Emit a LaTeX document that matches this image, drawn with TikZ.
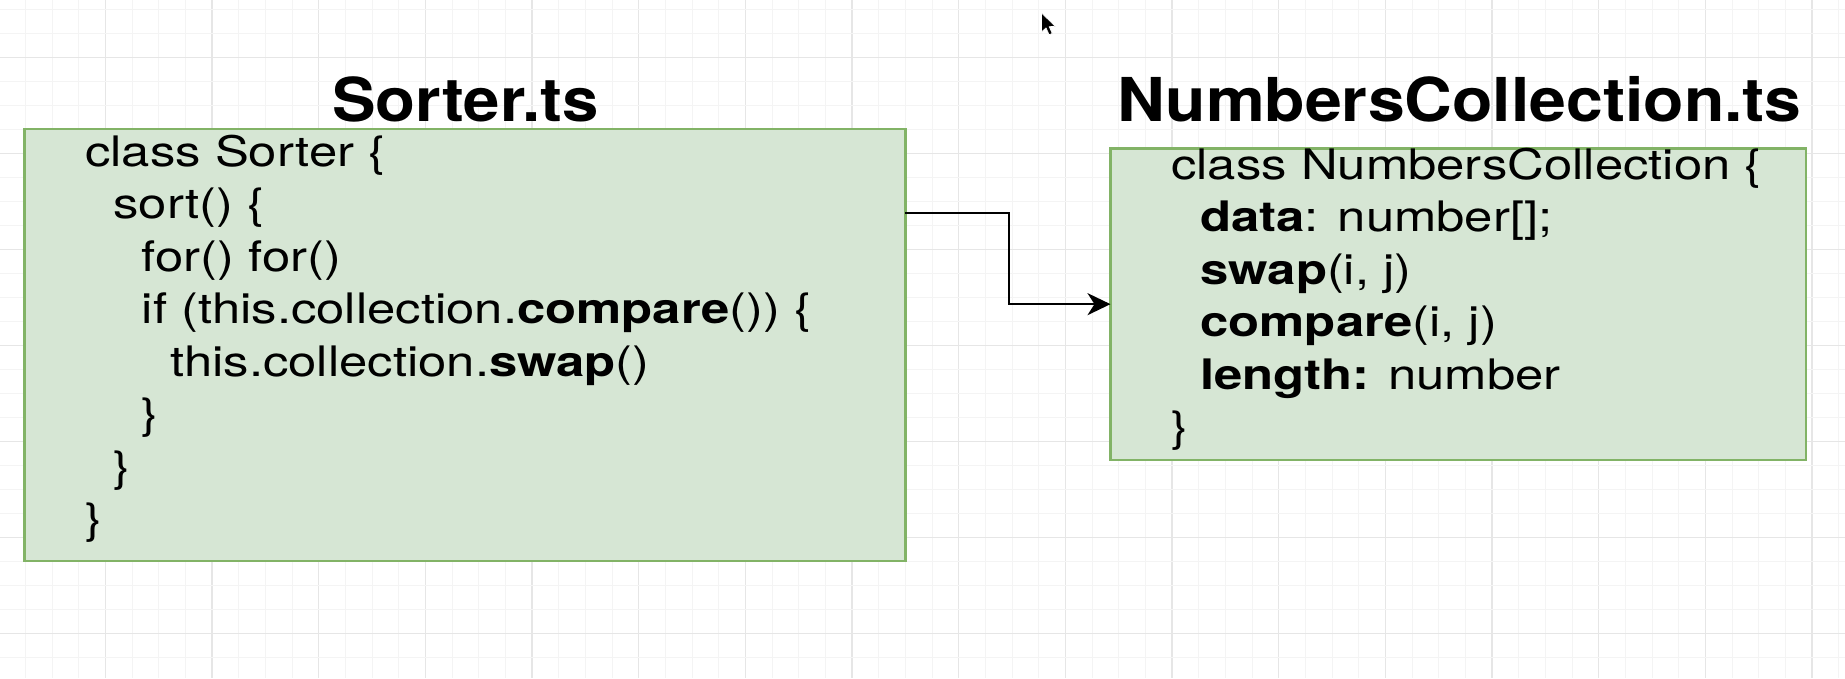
\documentclass[tikz,border=0pt]{standalone}
\usepackage{fontspec}
\setmainfont{TeX Gyre Heros}
\usetikzlibrary{arrows.meta}
\definecolor{boxfill}{HTML}{D6E6D4}
\definecolor{boxline}{HTML}{82B366}
\definecolor{gridminor}{HTML}{F4F4F4}
\definecolor{gridmajor}{HTML}{E6E6E6}
\newcommand{\bodyfont}{\fontsize{42}{50}\selectfont}
\newcommand{\titlefont}{\fontsize{60.5}{70}\selectfont\bfseries}
\newcommand{\hsc}[1]{\scalebox{1.21}[1]{#1}}
\newcommand{\hst}[1]{\scalebox{1.08}[1]{#1}}
\newcommand{\hstb}[1]{\scalebox{1.093}[1]{#1}}
\begin{document}
\begin{tikzpicture}[x=1pt,y=-1pt,
  box/.style={draw=boxline, fill=boxfill, line width=2.5pt, inner sep=0pt, outer sep=0pt},
  code/.style={anchor=base west, inner sep=0pt, font=\bodyfont},
  ftitle/.style={anchor=base west, inner sep=0pt, font=\titlefont},
  arr/.style={line width=2.3pt, -{Stealth[length=23pt,width=22pt,inset=7pt]}}]
\useasboundingbox (0,0) rectangle (1845,678);
\fill[white] (0,0) rectangle (1845,678);
% grid
\foreach \k in {0,...,68} {
  \pgfmathsetmacro\xx{25.333+26.6667*\k}
  \pgfmathtruncatemacro\m{mod(\k,4)}
  \ifnum\m=3
    \draw[gridmajor, line width=1.3pt] (\xx,0) -- (\xx,678);
  \else
    \draw[gridminor, line width=1pt] (\xx,0) -- (\xx,678);
  \fi
}
\foreach \k in {0,...,27} {
  \pgfmathsetmacro\yy{9.333+24*\k}
  \pgfmathtruncatemacro\m{mod(\k,4)}
  \ifnum\m=2
    \draw[gridmajor, line width=1.3pt] (0,\yy) -- (1845,\yy);
  \else
    \draw[gridminor, line width=1pt] (0,\yy) -- (1845,\yy);
  \fi
}
% boxes
\node[box, minimum width=880.8pt, minimum height=432pt] (sorter) at (464.9,345) {};
\node[box, minimum width=695.5pt, minimum height=311.7pt] (coll) at (1458.25,304.15) {};
% titles
\node[ftitle] (t1) at (332,121.7) {\hst{Sorter.ts}};
\node[ftitle] (t2) at (1117,121.7) {\hstb{NumbersCollection.ts}};
% Sorter code
\node[code] (s1) at (85,166) {\hsc{class Sorter \{}};
\node[code] (s2) at (113.3,218.5) {\hsc{sort() \{}};
\node[code] (s3) at (141.6,271) {\hsc{for() for()}};
\node[code] (s4) at (141.6,323.5) {\hsc{if (this.collection.\textbf{compare}()) \{}};
\node[code] (s5) at (170,376) {\hsc{this.collection.\textbf{swap}()}};
\node[code] (s6) at (141.6,428.5) {\hsc{\}}};
\node[code] (s7) at (113.3,481) {\hsc{\}}};
\node[code] (s8) at (85,533.5) {\hsc{\}}};
% NumbersCollection code
\node[code] (c1) at (1171,179) {\hsc{class NumbersCollection \{}};
\node[code] (c2) at (1200,231.5) {\hsc{\textbf{data}: number[];}};
\node[code] (c3) at (1200,284) {\hsc{\textbf{swap}(i, j)}};
\node[code] (c4) at (1200,336.5) {\hsc{\textbf{compare}(i, j)}};
\node[code] (c5) at (1200,389) {\hsc{\textbf{length:} number}};
\node[code] (c6) at (1171,441.5) {\hsc{\}}};
% connector
\draw[arr] ([yshift=-83.7pt]sorter.north east) -- ++(103.7,0) |- (coll.west);
% mouse pointer
\filldraw[fill=black, draw=white, line width=0.6pt, line join=round]
  (1041.5,13) -- ++(0,19) -- ++(4.5,-4.2) -- ++(3.2,7) -- ++(3,-1.4)
  -- ++(-3.1,-6.8) -- ++(6.2,-0.2) -- cycle;
\end{tikzpicture}
\end{document}
